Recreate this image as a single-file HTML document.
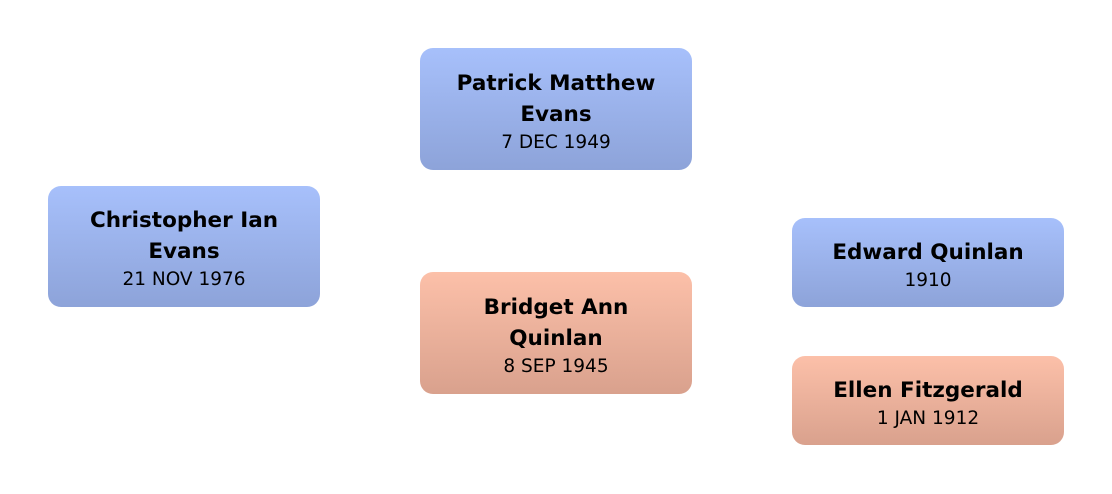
<!DOCTYPE html>
<html><head><style>
body{margin:0;width:1112px;height:494px;background:#fff;position:relative;overflow:hidden;font-family:"DejaVu Sans","Liberation Sans",sans-serif;}
.b{position:absolute;width:272px;box-sizing:border-box;padding-top:5px;border-radius:13px;display:flex;flex-direction:column;justify-content:center;align-items:center;text-align:center;color:#000;}
.m{background:linear-gradient(#a7c0fb,#8da3d9);}
.f{background:linear-gradient(#fcc0a9,#d9a18d);}
.n{font-weight:bold;font-size:21.5px;line-height:31px;}
.d{font-size:18.5px;line-height:26px;}
</style></head><body>
<div class="b m" style="left:48px;top:186px;height:121px"><div class="n">Christopher Ian<br>Evans</div><div class="d">21 NOV 1976</div></div>
<div class="b m" style="left:420px;top:48px;height:122px"><div class="n">Patrick Matthew<br>Evans</div><div class="d">7 DEC 1949</div></div>
<div class="b f" style="left:420px;top:272px;height:122px"><div class="n">Bridget Ann<br>Quinlan</div><div class="d">8 SEP 1945</div></div>
<div class="b m" style="left:792px;top:218px;height:89px"><div class="n">Edward Quinlan</div><div class="d">1910</div></div>
<div class="b f" style="left:792px;top:356px;height:89px"><div class="n">Ellen Fitzgerald</div><div class="d">1 JAN 1912</div></div>
</body></html>
